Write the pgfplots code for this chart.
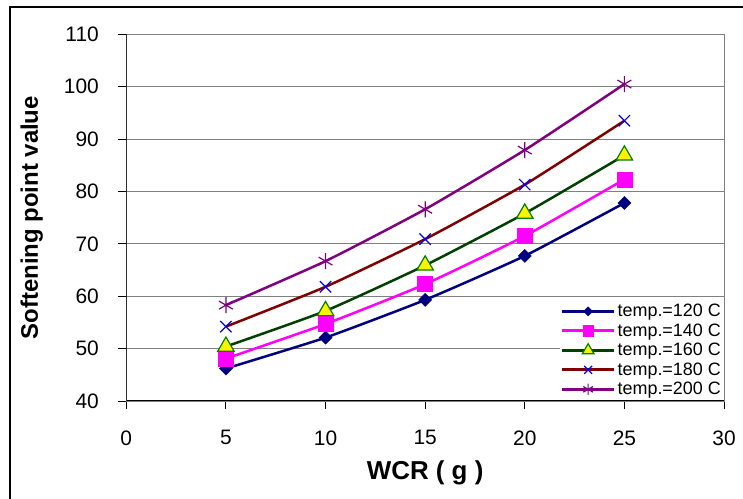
\documentclass[border=0pt]{standalone}
\usepackage{pgfplots}
\pgfplotsset{compat=1.18}
\usepackage{fontspec}
\setmainfont{Liberation Sans}
\definecolor{navyc}{RGB}{0,0,128}
\definecolor{magc}{RGB}{255,0,255}
\definecolor{dgreen}{RGB}{0,64,0}
\definecolor{mgreen}{RGB}{0,128,0}
\definecolor{maroonc}{RGB}{128,0,0}
\definecolor{purplec}{RGB}{128,0,128}
\definecolor{gridc}{RGB}{128,128,128}
\begin{document}
\begin{tikzpicture}
\useasboundingbox (0bp,0bp) rectangle (743bp,499bp);
\draw[line width=1.5bp] (10bp,0bp) -- (10bp,492bp) -- (743bp,492bp);
\begin{axis}[
  at={(126.3bp,98bp)}, anchor=south west, scale only axis,
  width=597.7bp, height=366.7bp,
  xmin=0, xmax=30, ymin=40, ymax=110,
  xtick={0,5,...,30}, ytick={40,50,...,110},
  ymajorgrids, grid style={gridc, line width=1bp},
  axis line style={gridc, line width=1bp},
  tick style={black, line width=1bp},
  tick align=outside, major tick length=8bp,
  xtick pos=bottom, ytick pos=left,
  /pgf/number format/assume math mode=true,
  tick label style={font=\fontsize{21}{24}\selectfont},
  xticklabel style={anchor=north, yshift=-18bp},
  yticklabel style={anchor=east, xshift=-16bp},
  xlabel={\textbf{WCR ( g )}},
  ylabel={\textbf{Softening point value}},
  label style={font=\fontsize{24}{28}\selectfont},
  xlabel style={at={(axis description cs:0.5,-0.196)}, anchor=center, font=\fontsize{26}{30}\selectfont},
  ylabel style={at={(axis description cs:-0.158,0.5)}, anchor=center},
  legend style={at={(1,0.004)}, anchor=south east, draw=none, fill=white,
    font=\fontsize{18}{20}\selectfont, row sep=1.5bp, inner xsep=1bp, inner ysep=1bp,
    /tikz/every even column/.append style={column sep=2bp}},
  legend cell align=left,
  legend image code/.code={\draw[mark repeat=2, mark phase=2, #1, line width=3bp, /tikz/every mark/.append style={scale=0.7}] plot coordinates {(0bp,0bp) (26bp,0bp) (52bp,0bp)};},
]
\addplot[navyc, line width=2.5bp, smooth, tension=0.3, mark=square*, mark size=4.6bp, mark options={rotate=45, fill=navyc, draw=navyc, line width=0.5bp}]
  coordinates {(5,46.2) (10,52.1) (15,59.3) (20,67.7) (25,77.8)};
\addlegendentry{temp.=120 C}
\addplot[magc, line width=2.5bp, smooth, tension=0.3, mark=square*, mark size=7.5bp, mark options={fill=magc, draw=magc, line width=0.5bp}]
  coordinates {(5,48.1) (10,54.7) (15,62.3) (20,71.5) (25,82.3)};
\addlegendentry{temp.=140 C}
\addplot[dgreen, line width=2.5bp, smooth, tension=0.3, mark=triangle*, mark size=9.5bp, mark options={fill=yellow, draw=mgreen, line width=1.2bp}]
  coordinates {(5,50.4) (10,57.2) (15,65.9) (20,75.8) (25,86.9)};
\addlegendentry{temp.=160 C}
\addplot[maroonc, line width=2.5bp, smooth, tension=0.3, mark=x, mark size=8bp, mark options={draw=blue, line width=1.2bp}]
  coordinates {(5,54.2) (10,61.8) (15,70.9) (20,81.3) (25,93.5)};
\addlegendentry{temp.=180 C}
\addplot[purplec, line width=2.5bp, smooth, tension=0.3, mark=asterisk, mark size=8bp, mark options={draw=purplec, line width=1.2bp}]
  coordinates {(5,58.3) (10,66.7) (15,76.6) (20,87.9) (25,100.5)};
\addlegendentry{temp.=200 C}
\draw[black, line width=1.2bp] (rel axis cs:0,1) -- (rel axis cs:0,0) -- (rel axis cs:1,0);
\end{axis}
\end{tikzpicture}
\end{document}
